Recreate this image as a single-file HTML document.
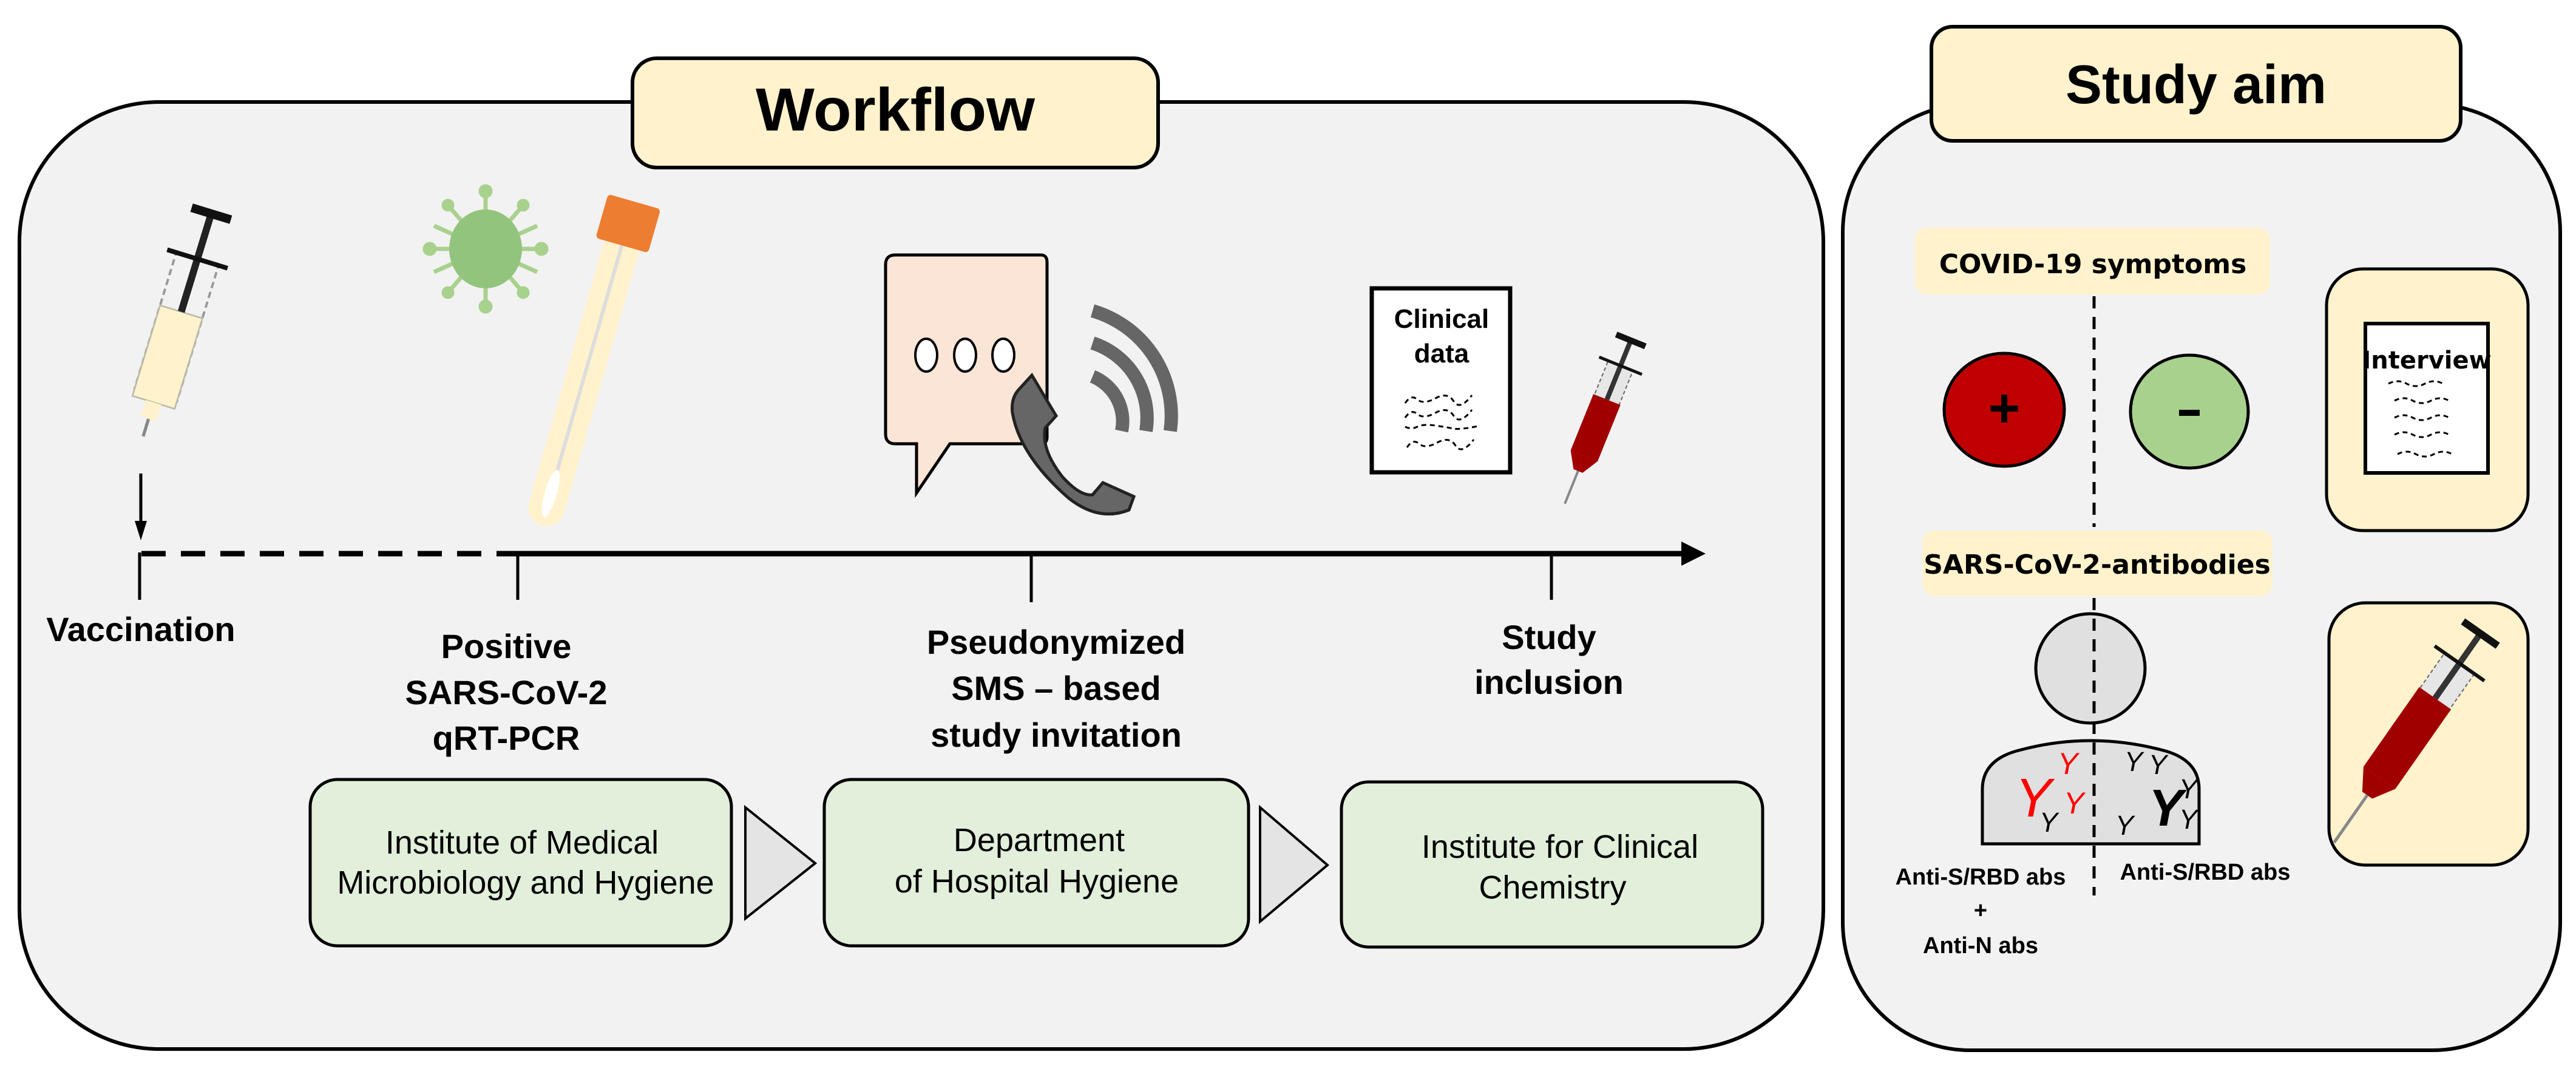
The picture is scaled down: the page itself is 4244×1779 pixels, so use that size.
<!DOCTYPE html>
<html><head><meta charset="utf-8"><style>
html,body{margin:0;padding:0;background:#fff;}
svg{display:block;}
text{font-family:"Liberation Sans",sans-serif;}
.b{font-weight:bold;}
</style></head><body>
<svg width="4244" height="1779" viewBox="0 0 4244 1779" xmlns="http://www.w3.org/2000/svg">
<!-- Workflow panel -->
<rect x="32" y="168" width="2972" height="1560" rx="230" ry="230" fill="#f2f2f2" stroke="#000" stroke-width="6"/>
<rect x="1042" y="96" width="866" height="180" rx="40" fill="#fff2cc" stroke="#000" stroke-width="6"/>
<text x="1475" y="215" text-anchor="middle" class="b" font-size="100" textLength="460" lengthAdjust="spacingAndGlyphs">Workflow</text>

<!-- Study aim panel -->
<rect x="3036" y="172" width="1182" height="1558" rx="210" ry="210" fill="#f2f2f2" stroke="#000" stroke-width="6"/>
<rect x="3182" y="44" width="872" height="188" rx="35" fill="#fff2cc" stroke="#000" stroke-width="6"/>
<text x="3618" y="170" text-anchor="middle" class="b" font-size="90">Study aim</text>

<!-- timeline -->
<line x1="233" y1="912" x2="853" y2="912" stroke="#000" stroke-width="9" stroke-dasharray="40,25"/>
<line x1="853" y1="912" x2="2780" y2="912" stroke="#000" stroke-width="9"/>
<polygon points="2810,912 2770,892 2770,932" fill="#000"/>
<line x1="230" y1="910" x2="230" y2="988" stroke="#000" stroke-width="5"/>
<line x1="853" y1="912" x2="853" y2="988" stroke="#000" stroke-width="5"/>
<line x1="1699" y1="912" x2="1699" y2="992" stroke="#000" stroke-width="5"/>
<line x1="2556" y1="912" x2="2556" y2="988" stroke="#000" stroke-width="5"/>
<line x1="232" y1="780" x2="232" y2="865" stroke="#000" stroke-width="5"/>
<polygon points="232,890 222,858 242,858" fill="#000"/>

<g class="b" font-size="56" text-anchor="middle">
<text x="232" y="1056">Vaccination</text>
<text x="834" y="1084">Positive</text>
<text x="834" y="1160">SARS-CoV-2</text>
<text x="834" y="1235">qRT-PCR</text>
<text x="1740" y="1077">Pseudonymized</text>
<text x="1740" y="1153">SMS – based</text>
<text x="1740" y="1230">study invitation</text>
<text x="2552" y="1069">Study</text>
<text x="2552" y="1143">inclusion</text>
</g>

<!-- green boxes -->
<rect x="511" y="1284" width="694" height="274" rx="45" fill="#e2efda" stroke="#000" stroke-width="5"/>
<rect x="1358" y="1284" width="699" height="274" rx="45" fill="#e2efda" stroke="#000" stroke-width="5"/>
<rect x="2210" y="1288" width="694" height="272" rx="45" fill="#e2efda" stroke="#000" stroke-width="5"/>
<polygon points="1228,1330 1343,1422 1228,1513" fill="#e4e4e4" stroke="#000" stroke-width="4"/>
<polygon points="2076,1330 2187,1425 2076,1518" fill="#e4e4e4" stroke="#000" stroke-width="4"/>
<g font-size="54" text-anchor="middle">
<text x="860" y="1406">Institute of Medical</text>
<text x="866" y="1472">Microbiology and Hygiene</text>
<text x="1712" y="1402">Department</text>
<text x="1708" y="1470">of Hospital Hygiene</text>
<text x="2570" y="1413">Institute for Clinical</text>
<text x="2558" y="1480">Chemistry</text>
</g>

<!-- vaccine syringe -->
<g transform="translate(348,352) rotate(17) scale(1.3)">
<rect x="-28" y="60" width="56" height="180" fill="none" stroke="#999" stroke-width="3" stroke-dasharray="8,5"/>
<rect x="-28" y="130" width="56" height="120" fill="#fff2cc" stroke="#bba" stroke-width="2"/>
<line x1="0" y1="0" x2="0" y2="130" stroke="#222" stroke-width="9"/>
<line x1="-26" y1="0" x2="26" y2="0" stroke="#111" stroke-width="11"/>
<line x1="-40" y1="60" x2="40" y2="60" stroke="#111" stroke-width="6"/>
<rect x="-10" y="250" width="20" height="22" fill="#fff2cc"/>
<line x1="0" y1="272" x2="0" y2="295" stroke="#888" stroke-width="4"/>
</g>

<!-- virus -->
<g transform="translate(800,410)" stroke="#a9d18e" stroke-width="7" fill="#a9d18e">
<line x1="0" y1="-95" x2="0" y2="95"/><line x1="-92" y1="0" x2="92" y2="0"/>
<line x1="-62" y1="-72" x2="62" y2="72"/><line x1="62" y1="-72" x2="-62" y2="72"/>
<line x1="-85" y1="-38" x2="85" y2="38"/><line x1="85" y1="-38" x2="-85" y2="38"/>
<circle cx="0" cy="-95" r="8"/><circle cx="0" cy="95" r="8"/><circle cx="-92" cy="0" r="8"/><circle cx="92" cy="0" r="8"/>
<circle cx="-62" cy="-72" r="7"/><circle cx="62" cy="-72" r="7"/><circle cx="-62" cy="72" r="7"/><circle cx="62" cy="72" r="7"/>
<ellipse cx="0" cy="0" rx="60" ry="65" fill="#93c47d" stroke="none"/>
</g>
<!-- swab tube -->
<g transform="translate(1030,385) rotate(16)">
<rect x="-30" y="0" width="60" height="500" rx="30" fill="#fff2cc"/>
<line x1="0" y1="20" x2="0" y2="420" stroke="#ddd" stroke-width="6"/>
<ellipse cx="0" cy="445" rx="10" ry="40" fill="#fff"/>
<rect x="-45" y="-55" width="90" height="75" fill="#ed7d31" rx="6"/>
</g>

<!-- chat bubble -->
<path d="M1475,420 H1715 Q1725,420 1725,432 V720 Q1725,731 1715,731 H1565 L1510,812 V731 H1475 Q1459,731 1459,715 V436 Q1459,420 1475,420 Z" fill="#fbe5d6" stroke="#000" stroke-width="5"/>
<ellipse cx="1526" cy="585" rx="18" ry="27" fill="#fff" stroke="#000" stroke-width="4"/>
<ellipse cx="1590" cy="585" rx="18" ry="27" fill="#fff" stroke="#000" stroke-width="4"/>
<ellipse cx="1653" cy="585" rx="18" ry="27" fill="#fff" stroke="#000" stroke-width="4"/>
<!-- phone -->
<path d="M1680,640 L1700,618 L1740,685 L1722,705 Q1715,740 1750,785 Q1780,818 1800,815 L1817,795 L1868,818 L1860,840 Q1810,860 1760,820 Q1680,750 1668,680 Q1665,655 1680,640 Z" fill="#666" stroke="#222" stroke-width="5"/>
<g fill="none" stroke-width="22" stroke="#666">
<path d="M1800,620 A80,80 0 0 1 1848,710"/>
<path d="M1800,565 A130,130 0 0 1 1888,710"/>
<path d="M1800,512 A180,180 0 0 1 1928,710"/>
</g>

<!-- clinical data doc -->
<rect x="2260" y="475" width="228" height="303" fill="#fff" stroke="#000" stroke-width="7"/>
<text x="2375" y="540" text-anchor="middle" class="b" font-size="44">Clinical</text>
<text x="2375" y="597" text-anchor="middle" class="b" font-size="44">data</text>
<g fill="none" stroke="#000" stroke-width="3" stroke-dasharray="8,6">
<path d="M2315,664 q10,-15 20,-6 t30,-2 t30,5 t30,-10"/>
<path d="M2315,688 q10,-15 20,-6 t30,-2 t30,5 t30,-10"/>
<path d="M2315,703 q10,5 20,0 t30,-2 t30,5 t40,-4"/>
<path d="M2318,737 q10,-15 20,-6 t30,-2 t30,5 t30,-10"/>
</g>

<!-- red syringe -->
<g transform="translate(2683,570) rotate(22)">
<rect x="-22" y="35" width="44" height="160" fill="#e6e6e6" stroke="#666" stroke-width="2" stroke-dasharray="6,4"/>
<rect x="-24" y="95" width="48" height="100" fill="#a00000"/>
<polygon points="-24,195 24,195 8,222 -8,222" fill="#a00000"/>
<line x1="0" y1="-10" x2="0" y2="95" stroke="#333" stroke-width="8"/>
<line x1="-26" y1="-10" x2="26" y2="-10" stroke="#111" stroke-width="10"/>
<line x1="-38" y1="35" x2="38" y2="35" stroke="#111" stroke-width="5"/>
<line x1="0" y1="222" x2="0" y2="280" stroke="#888" stroke-width="4"/>
</g>

<!-- Study aim content -->
<rect x="3155" y="375" width="585" height="110" rx="20" fill="#fff2cc"/>
<text x="3448" y="450" text-anchor="middle" class="b" font-size="44" style="font-family:'DejaVu Sans',sans-serif">COVID-19 symptoms</text>
<line x1="3450" y1="488" x2="3450" y2="868" stroke="#000" stroke-width="5" stroke-dasharray="20,14"/>
<ellipse cx="3302" cy="675" rx="99" ry="93" fill="#c00000" stroke="#000" stroke-width="5"/>
<text x="3302" y="703" text-anchor="middle" class="b" font-size="90">+</text>
<ellipse cx="3607" cy="678" rx="97" ry="93" fill="#a9d18e" stroke="#000" stroke-width="5"/>
<rect x="3590" y="675" width="34" height="10" fill="#000"/>
<rect x="3167" y="874" width="577" height="108" rx="20" fill="#fff2cc"/>
<text x="3455" y="945" text-anchor="middle" class="b" font-size="44" style="font-family:'DejaVu Sans',sans-serif">SARS-CoV-2-antibodies</text>
<circle cx="3444" cy="1101" r="90" fill="#e0e0e0" stroke="#000" stroke-width="5"/>
<path d="M3266,1390 V1300 Q3266,1250 3330,1235 Q3444,1205 3560,1235 Q3623,1250 3623,1300 V1390 Z" fill="#e0e0e0" stroke="#000" stroke-width="5"/>
<line x1="3450" y1="985" x2="3450" y2="1475" stroke="#000" stroke-width="5" stroke-dasharray="20,14"/>
<g font-size="60" font-style="italic">
<text x="3320" y="1345" fill="#ff0000" font-size="90">Y</text>
<text x="3390" y="1275" fill="#ff0000" font-size="50">Y</text>
<text x="3400" y="1340" fill="#ff0000" font-size="50">Y</text>
<text x="3360" y="1370" font-size="45">Y</text>
<text x="3500" y="1270" font-size="45">Y</text>
<text x="3540" y="1275" font-size="45">Y</text>
<text x="3540" y="1360" class="b" font-size="85">Y</text>
<text x="3485" y="1375" font-size="45">Y</text>
<text x="3590" y="1315" font-size="45">Y</text>
<text x="3590" y="1365" font-size="45">Y</text>
</g>
<g class="b" font-size="38" text-anchor="middle" style="font-family:'DejaVu Sans',sans-serif">
<text x="3263" y="1457">Anti-S/RBD abs</text>
<text x="3263" y="1512">+</text>
<text x="3263" y="1570">Anti-N abs</text>
<text x="3633" y="1449">Anti-S/RBD abs</text>
</g>
<rect x="3833" y="443" width="332" height="431" rx="60" fill="#fff2cc" stroke="#000" stroke-width="5"/>
<rect x="3897" y="533" width="202" height="246" fill="#fff" stroke="#000" stroke-width="6"/>
<text x="3998" y="607" text-anchor="middle" class="b" font-size="40" style="font-family:'DejaVu Sans',sans-serif">Interview</text>
<g fill="none" stroke="#000" stroke-width="3" stroke-dasharray="8,6">
<path d="M3935,632 q15,-8 30,0 t30,0 t30,0"/>
<path d="M3945,660 q15,-8 30,0 t30,0 t30,0"/>
<path d="M3945,688 q15,-8 30,0 t30,0 t30,0"/>
<path d="M3945,716 q15,-8 30,0 t30,0 t30,0"/>
<path d="M3950,748 q15,-8 30,0 t30,0 t30,0"/>
</g>
<rect x="3837" y="993" width="328" height="432" rx="60" fill="#fff2cc" stroke="#000" stroke-width="5"/>
<g transform="translate(4075,1060) rotate(35)">
<rect x="-30" y="40" width="60" height="230" fill="#e6e6e6" stroke="#666" stroke-width="2" stroke-dasharray="6,4"/>
<rect x="-32" y="110" width="64" height="160" fill="#a00000"/>
<polygon points="-32,270 32,270 10,305 -10,305" fill="#a00000"/>
<line x1="0" y1="-20" x2="0" y2="110" stroke="#333" stroke-width="10"/>
<line x1="-35" y1="-20" x2="35" y2="-20" stroke="#111" stroke-width="12"/>
<line x1="-50" y1="40" x2="50" y2="40" stroke="#111" stroke-width="6"/>
<line x1="0" y1="305" x2="0" y2="400" stroke="#888" stroke-width="5"/>
</g>
</svg>
</body></html>
